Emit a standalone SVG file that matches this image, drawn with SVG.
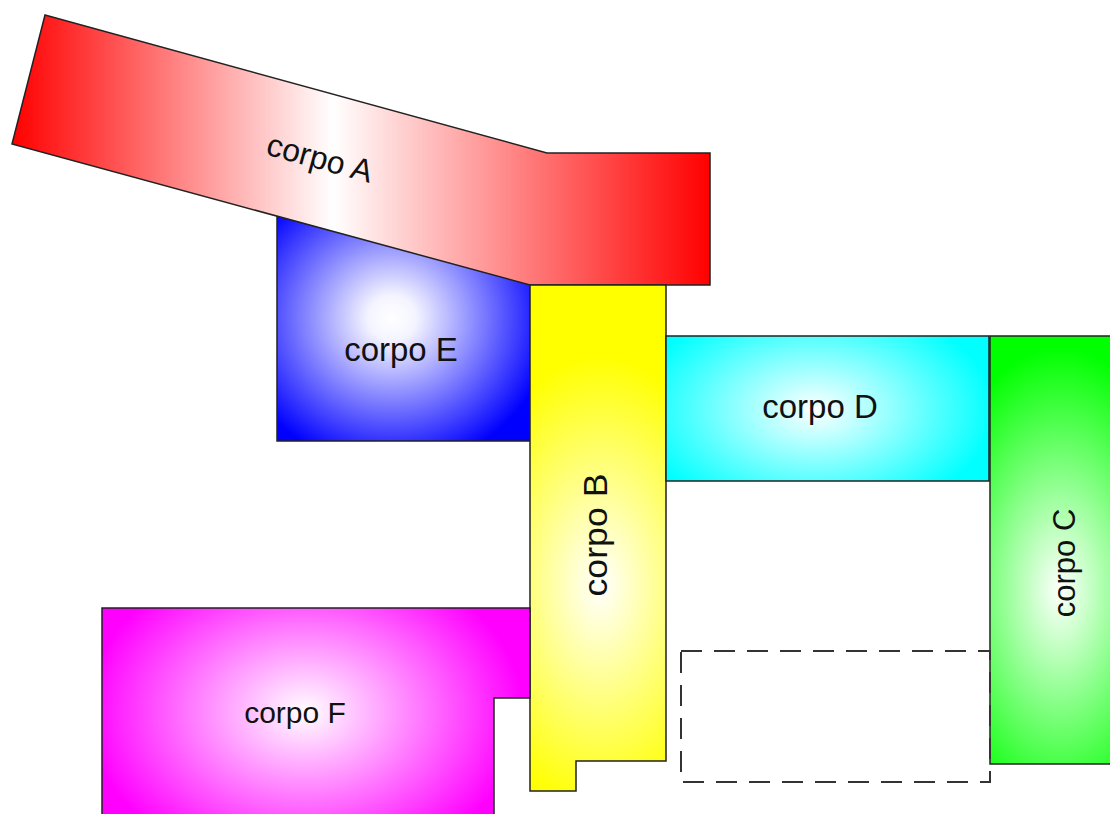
<svg xmlns="http://www.w3.org/2000/svg" width="1110" height="814" viewBox="0 0 1110 814">
<style>
.s{stroke:#222;stroke-width:1.5;stroke-linejoin:miter}
.t{font-family:"Liberation Sans",Arial,sans-serif;fill:#111;text-anchor:middle}
.d{fill:none;stroke:#333;stroke-width:2;stroke-dasharray:21,12}
</style>
<defs>
<linearGradient id="gA" gradientUnits="userSpaceOnUse" x1="12" y1="150" x2="710" y2="150">
<stop offset="0" stop-color="#ff0000"/><stop offset="0.46" stop-color="#ffffff"/><stop offset="1" stop-color="#ff0000"/>
</linearGradient>
<radialGradient id="gE" gradientUnits="userSpaceOnUse" cx="0" cy="0" r="1" gradientTransform="translate(392,318) scale(160,150)">
<stop offset="0" stop-color="#ffffff"/><stop offset="0.15" stop-color="#f4f4ff"/><stop offset="1" stop-color="#0000ff"/>
</radialGradient>
<radialGradient id="gB" gradientUnits="userSpaceOnUse" cx="0" cy="0" r="1" gradientTransform="translate(600,585) scale(160,270)">
<stop offset="0" stop-color="#ffffff"/><stop offset="0.85" stop-color="#ffff00"/>
</radialGradient>
<radialGradient id="gD" gradientUnits="userSpaceOnUse" cx="0" cy="0" r="1" gradientTransform="translate(815,410) scale(180,110)">
<stop offset="0" stop-color="#ffffff"/><stop offset="1" stop-color="#00ffff"/>
</radialGradient>
<radialGradient id="gC" gradientUnits="userSpaceOnUse" cx="0" cy="0" r="1" gradientTransform="translate(1060,590) scale(150,270)">
<stop offset="0" stop-color="#ffffff"/><stop offset="0.9" stop-color="#00ff00"/>
</radialGradient>
<radialGradient id="gF" gradientUnits="userSpaceOnUse" cx="0" cy="0" r="1" gradientTransform="translate(305,712) scale(230,170)">
<stop offset="0" stop-color="#ffffff"/><stop offset="0.95" stop-color="#ff00ff"/>
</radialGradient>
</defs>
<g id="corpo-E">
<polygon class="s" fill="url(#gE)" points="277,215 530,284 530,441 277,441"/>
<text class="t" x="401" y="361" font-size="33">corpo E</text>
</g>
<g id="corpo-A">
<polygon class="s" fill="url(#gA)" points="45,15 547,153 710,153 710,285 530,285 12,144"/>
<text class="t" font-size="32" transform="translate(320,158) rotate(15.4)" y="11">corpo A</text>
</g>
<g id="corpo-B">
<polygon class="s" fill="url(#gB)" points="530,285 666,285 666,761 576,761 576,791 530,791"/>
<text class="t" font-size="33" textLength="123" lengthAdjust="spacingAndGlyphs" transform="translate(607,535) rotate(-90)">corpo B</text>
</g>
<g id="corpo-D">
<rect class="s" fill="url(#gD)" x="666" y="336" width="323" height="145"/>
<text class="t" x="820" y="418" font-size="33">corpo D</text>
</g>
<g id="corpo-C">
<rect class="s" fill="url(#gC)" x="990" y="336" width="140" height="428"/>
<text class="t" font-size="31" transform="translate(1075,563) rotate(-90)">corpo C</text>
</g>
<g id="corpo-F">
<polygon class="s" fill="url(#gF)" points="102,608 530,608 530,698 494,698 494,820 102,820"/>
<text class="t" x="295" y="723" font-size="30">corpo F</text>
</g>
<g id="connectors">
<rect class="d" x="681" y="651" width="309" height="131"/>
</g>
</svg>
